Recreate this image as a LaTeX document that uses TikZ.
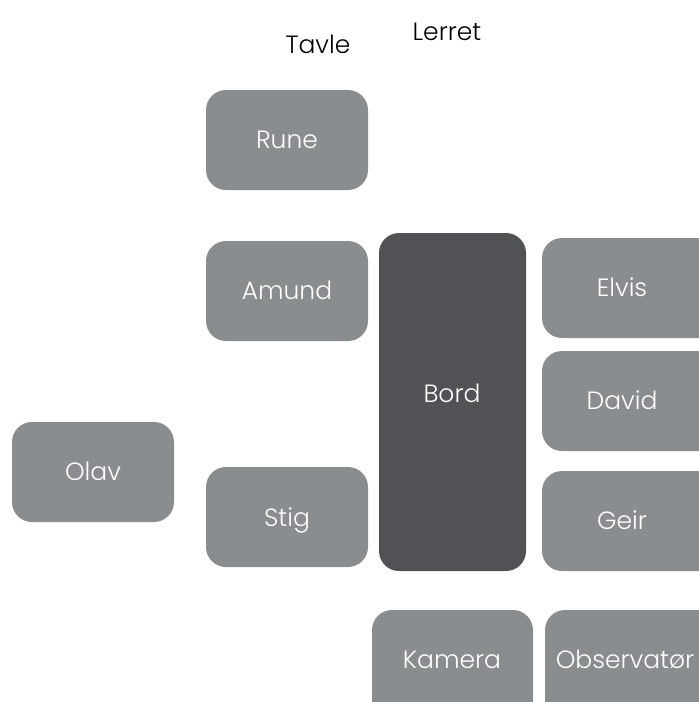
\documentclass[tikz,border=0pt]{standalone}
\usepackage{fontspec}
\setmainfont{Poppins}[UprightFont=* Light]
\definecolor{boxgray}{HTML}{8A8D90}
\definecolor{boxdark}{HTML}{515256}
\tikzset{
  seatfill/.style={fill=boxgray, rounded corners=20pt},
  tablebox/.style={fill=boxdark, rounded corners=20pt},
  seattext/.style={text=white, font=\fontsize{25}{29}\selectfont, anchor=base, inner sep=0pt},
  lbl/.style={font=\fontsize{25}{29}\selectfont, text=black, anchor=base, inner sep=0pt}
}
\begin{document}
\begin{tikzpicture}[x=1pt,y=-1pt]
\useasboundingbox (0,0) rectangle (699,702);
\clip (0,0) rectangle (699,702);
\fill[seatfill] (206,90) rectangle (368,190);
\node[seattext] (rune) at (287,148.5) {Rune};
\fill[seatfill] (206,241) rectangle (368,341);
\node[seattext] (amund) at (287,299.5) {Amund};
\fill[seatfill] (206,467) rectangle (368,567);
\node[seattext] (stig) at (287,526.5) {Stig};
\fill[seatfill] (12,422) rectangle (174,522);
\node[seattext] (olav) at (93,480.5) {Olav};
\fill[tablebox] (379,233) rectangle (526,571);
\node[seattext] (bord) at (452,402.5) {Bord};
\fill[seatfill] (542,238) rectangle (720,338);
\node[seattext] (elvis) at (622,296.5) {Elvis};
\fill[seatfill] (542,351) rectangle (720,451);
\node[seattext] (david) at (622,409.5) {David};
\fill[seatfill] (542,471) rectangle (720,571);
\node[seattext] (geir) at (622,529.5) {Geir};
\fill[seatfill] (372,610) rectangle (533,730);
\node[seattext] (kamera) at (452,668.5) {Kamera};
\fill[seatfill] (545,610) rectangle (740,730);
\node[seattext] (obs) at (625,668.5) {Observatør};
\node[lbl] (tavle) at (318,53.5) {Tavle};
\node[lbl] (lerret) at (447,40.5) {Lerret};
\end{tikzpicture}
\end{document}
